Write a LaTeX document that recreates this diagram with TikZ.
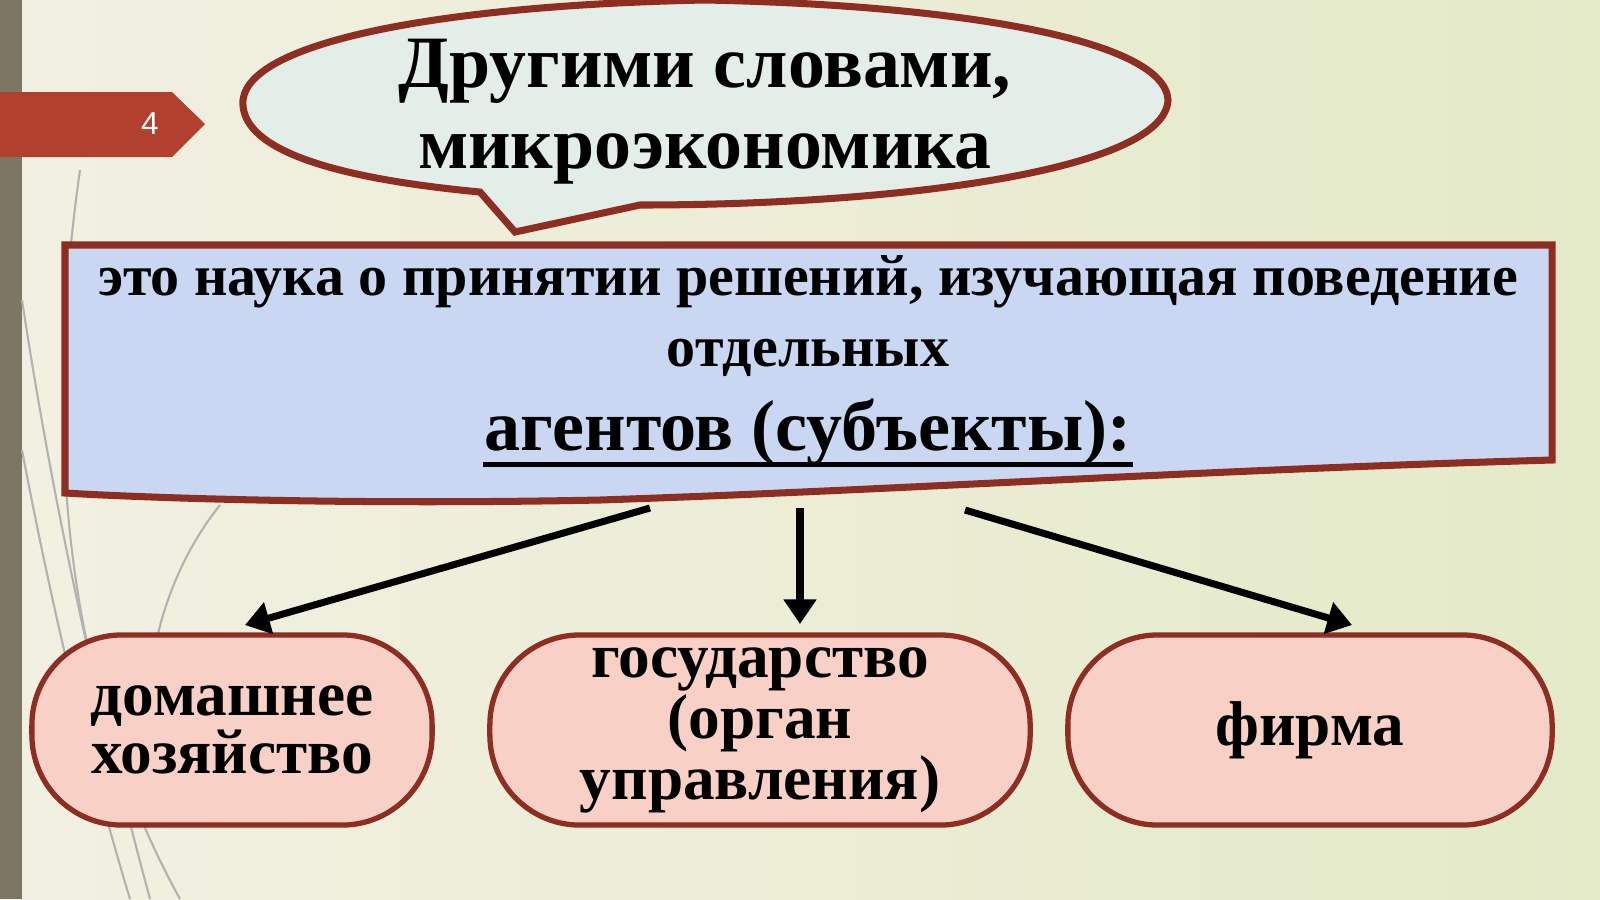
\documentclass[tikz,border=0pt]{standalone}
\usepackage{fontspec}
\setmainfont{Liberation Serif}
\setsansfont{Liberation Sans}
\usetikzlibrary{arrows.meta}
\definecolor{bgA}{HTML}{F2F0E2}
\definecolor{bgB}{HTML}{E4EAC8}
\definecolor{bar}{HTML}{7D7662}
\definecolor{tab}{HTML}{B2402E}
\definecolor{brd}{HTML}{8E2D22}
\definecolor{cloud}{HTML}{E3EEE8}
\definecolor{boxblue}{HTML}{C9D7F2}
\definecolor{pinkf}{HTML}{F8D0C5}
\tikzset{
  px/.style={x=0.01cm,y=-0.01cm},
  agent/.style={draw=brd,line width=1.5pt,fill=pinkf,rounded corners=0.9cm,font=\bfseries\fontsize{18}{15}\selectfont,align=center,inner sep=0pt},
  arr/.style={line width=2pt,-{Triangle[length=7pt,width=9pt]}},
  deco/.style={gray!60,line width=0.6pt}
}
\begin{document}
\begin{tikzpicture}[px]
\useasboundingbox (0,0) rectangle (1600,899);
\shade[left color=bgA,right color=bgB] (0,0) rectangle (1600,899);
\fill[bar] (0,0) rectangle (22,899);
% decorative lines
\draw[deco] (80,170) .. controls (40,450) and (70,700) .. (180,899);
\draw[deco] (22,300) .. controls (60,550) and (110,750) .. (150,899);
\draw[deco] (220,505) .. controls (160,580) and (140,680) .. (150,760);
\draw[deco] (22,450) .. controls (60,650) and (100,800) .. (130,899);
% tab
\fill[tab] (0,92) -- (172,92) -- (205,124) -- (172,157) -- (0,157) -- cycle;
\node[text=white,font=\sffamily\fontsize{9}{10}\selectfont] (num) at (150,124) {4};
% callout
\draw[brd,line width=2pt,fill=cloud] (480,192) .. controls (300,175) and (240,140) .. (243,100)
  .. controls (250,40) and (450,5) .. (705,0)
  .. controls (960,5) and (1165,40) .. (1168,100)
  .. controls (1165,170) and (900,205) .. (640,205) -- (515,232) -- cycle;
\node[font=\bfseries\fontsize{21}{23}\selectfont,align=center] (title) at (705,112) {Другими словами,\\микроэкономика};
% main box
\draw[brd,line width=2pt,fill=boxblue] (65,245) -- (1552,245) -- (1552,460)
  .. controls (1200,470) and (900,490) .. (600,500) .. controls (350,505) and (150,498) .. (65,493) -- cycle;
\node[font=\bfseries\fontsize{16.5}{20}\selectfont,align=center] (def) at (808,316) {это наука о принятии решений, изучающая поведение\\отдельных};
\node[font=\bfseries\fontsize{20.5}{20}\selectfont] (ag) at (808,432) {агентов (субъекты):};
\draw[line width=1.4pt] ([xshift=3pt,yshift=-4pt]ag.base west) -- ([xshift=-3pt,yshift=-4pt]ag.base east);
% agents
\node[agent,minimum width=4cm,minimum height=1.9cm] (h) at (232,730) {домашнее\\хозяйство};
\node[agent,minimum width=5.4cm,minimum height=1.9cm] (g) at (760,730) {государство\\(орган\\управления)};
\node[agent,minimum width=4.84cm,minimum height=1.9cm] (f) at (1310,730) {фирма};
\coordinate (a1) at (650,508);
\coordinate (a2) at (800,508);
\coordinate (a3) at (965,510);
\coordinate (t1) at (245,625);
\coordinate (t2) at (800,624);
\coordinate (t3) at (1352,625);
\draw[arr] (a1) -- (t1);
\draw[arr] (a2) -- (t2);
\draw[arr] (a3) -- (t3);
\end{tikzpicture}
\end{document}
